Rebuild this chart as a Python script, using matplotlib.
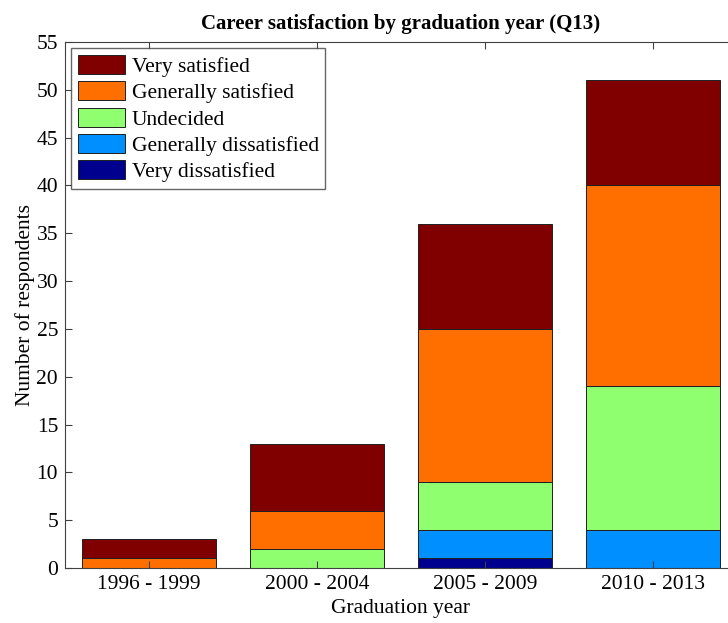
import numpy as np
import matplotlib.pyplot as plt

plt.rcParams['font.family'] = ['Liberation Serif', 'DejaVu Serif']

# data
periods = ['1996 - 1999', '2000 - 2004', '2005 - 2009', '2010 - 2013']
very_dissatisfied = [0, 0, 1, 0]
gen_dissatisfied = [0, 0, 3, 4]
undecided = [0, 2, 5, 15]
gen_satisfied = [1, 4, 16, 21]
very_satisfied = [2, 7, 11, 11]

series = [
    ('Very dissatisfied', very_dissatisfied, '#00008f'),
    ('Generally dissatisfied', gen_dissatisfied, '#008fff'),
    ('Undecided', undecided, '#8fff70'),
    ('Generally satisfied', gen_satisfied, '#ff6f00'),
    ('Very satisfied', very_satisfied, '#800000'),
]

fig = plt.figure(figsize=(7.28, 6.23), dpi=100)
ax = fig.add_axes([0.0893, 0.0883, 0.923, 0.8443])

x = np.arange(1, len(periods) + 1)
bottom = np.zeros(len(periods))
handles = []
for name, vals, col in series:
    vals = np.array(vals, dtype=float)
    b = ax.bar(x, vals, 0.8, bottom=bottom, color=col, edgecolor='#202020',
               linewidth=0.7, label=name)
    handles.append(b)
    bottom += vals

ax.set_xlim(0.5, 4.5)
ax.set_ylim(0, 55)
ax.set_yticks(range(0, 56, 5))
ax.set_xticks(x)
ax.set_xticklabels(periods)
ax.tick_params(direction='in', top=True, right=True, labelsize=15.5, length=5,
               color='#404040', pad=5)
for s in ax.spines.values():
    s.set_color('#404040')

ax.set_title('Career satisfaction by graduation year (Q13)', fontsize=15,
             fontweight='bold', pad=9)
ax.set_xlabel('Graduation year', fontsize=15.5, labelpad=4)
ax.set_ylabel('Number of respondents', fontsize=15.5, labelpad=1)

leg = ax.legend(handles[::-1], [s[0] for s in series][::-1], loc='upper left',
                fontsize=15.5, frameon=True, fancybox=False, handlelength=2.2,
                handleheight=1.0, handletextpad=0.3, labelspacing=0.2,
                borderaxespad=0.3, borderpad=0.3, edgecolor='#404040')
leg.get_frame().set_linewidth(1.0)

fig.savefig('out.png', dpi=100)
